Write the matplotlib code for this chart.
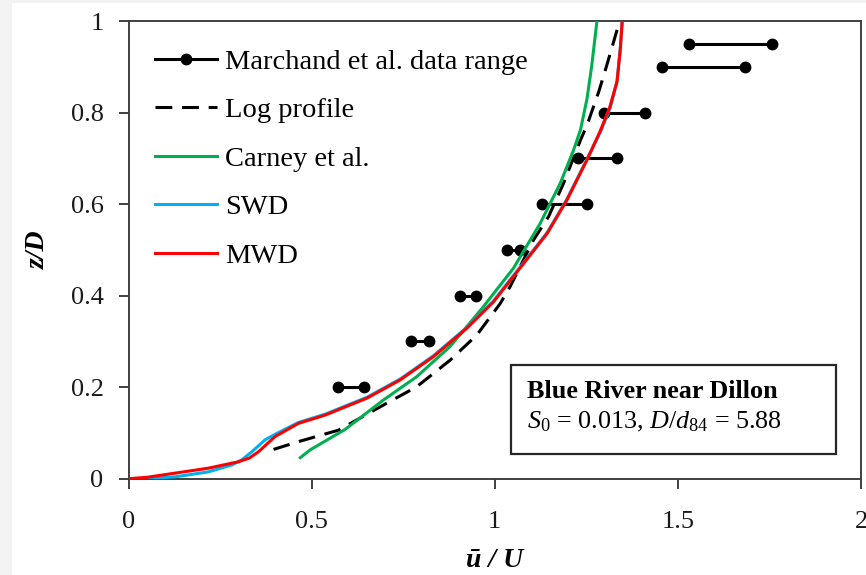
import matplotlib
matplotlib.use("Agg")
import matplotlib.pyplot as plt
from matplotlib.patches import Rectangle
from matplotlib.lines import Line2D

plt.rcParams['font.family'] = ['Liberation Serif', 'DejaVu Serif']
plt.rcParams['mathtext.fontset'] = 'custom'
plt.rcParams['mathtext.rm'] = 'Liberation Serif'
plt.rcParams['mathtext.it'] = 'Liberation Serif:italic'
plt.rcParams['mathtext.bf'] = 'Liberation Serif:bold'

# ---- data ----
march_z = [0.2, 0.3, 0.4, 0.5, 0.6, 0.7, 0.8, 0.9, 0.95]
march_lo = [0.573, 0.77, 0.905, 1.033, 1.13, 1.227, 1.297, 1.458, 1.531]
march_hi = [0.644, 0.82, 0.95, 1.07, 1.252, 1.334, 1.409, 1.683, 1.757]

log_x = [0.396, 0.464, 0.573, 0.696, 0.787, 0.878, 0.951, 1.015, 1.042, 1.106,
         1.147, 1.188, 1.234, 1.252, 1.284, 1.306, 1.334]
log_z = [0.064, 0.081, 0.106, 0.161, 0.201, 0.259, 0.314, 0.383, 0.420, 0.522,
         0.573, 0.646, 0.740, 0.773, 0.846, 0.904, 0.981]

carney_x = [0.469, 0.496, 0.592, 0.696, 0.787, 0.878, 0.965, 1.051, 1.124,
            1.179, 1.215, 1.234, 1.252, 1.265, 1.279]
carney_z = [0.046, 0.063, 0.108, 0.172, 0.223, 0.289, 0.372, 0.460, 0.558,
            0.646, 0.718, 0.762, 0.831, 0.904, 1.0]

swd_x = [0.0, 0.06, 0.127, 0.218, 0.282, 0.309, 0.337, 0.373, 0.400, 0.464,
         0.537, 0.592, 0.651, 0.742, 0.833, 0.924, 0.997, 1.051, 1.143, 1.197,
         1.252, 1.290, 1.316, 1.334, 1.343, 1.348]
swd_z = [0.0, 0.001, 0.004, 0.015, 0.030, 0.041, 0.059, 0.085, 0.097, 0.123,
         0.141, 0.159, 0.178, 0.218, 0.269, 0.331, 0.389, 0.444, 0.538, 0.611,
         0.699, 0.760, 0.812, 0.870, 0.942, 1.0]

mwd_x = [0.0, 0.05, 0.109, 0.218, 0.300, 0.330, 0.355, 0.400, 0.464, 0.537,
         0.592, 0.651, 0.742, 0.833, 0.924, 0.997, 1.051, 1.143, 1.197, 1.252,
         1.288, 1.314, 1.334, 1.343, 1.348]
mwd_z = [0.0, 0.003, 0.010, 0.023, 0.037, 0.045, 0.059, 0.092, 0.121, 0.139,
         0.157, 0.176, 0.216, 0.267, 0.329, 0.387, 0.442, 0.536, 0.609, 0.697,
         0.760, 0.812, 0.868, 0.941, 1.0]

xticks = [0, 0.5, 1, 1.5, 2]
xtick_labels = ['0', '0.5', '1', '1.5', '2']
yticks = [0, 0.2, 0.4, 0.6, 0.8, 1.0]
ytick_labels = ['0', '0.2', '0.4', '0.6', '0.8', '1']

labels = ['Marchand et al. data range', 'Log profile', 'Carney et al.', 'SWD', 'MWD']

# ---- figure ----
fig = plt.figure(figsize=(8.66, 5.75), dpi=100)
fig.patch.set_facecolor('#f3f3f3')
fig.add_artist(Rectangle((12/866, 0), 1, 1 - 3/575, transform=fig.transFigure,
                         facecolor='white', edgecolor='none', zorder=-10))

ax = fig.add_axes([128.5/866, 1 - 478.7/575, 732.5/866, 457.5/575])
ax.set_facecolor('white')

spine_c = '#404040'
for s in ax.spines.values():
    s.set_color(spine_c)
    s.set_linewidth(1.4)

lw = 2.2
ms = 7.5
dash = (5.5, 3.2)
for z, lo, hi in zip(march_z, march_lo, march_hi):
    ax.plot([lo, hi], [z, z], color='black', lw=lw, marker='o', ms=ms, zorder=2)

ax.plot(log_x, log_z, color='black', lw=lw, dashes=dash, zorder=3)
ax.plot(carney_x, carney_z, color='#00b050', lw=lw, zorder=4)
ax.plot(swd_x, swd_z, color='#00b0f0', lw=lw, zorder=5)
ax.plot(mwd_x, mwd_z, color='#ff0000', lw=lw, zorder=6)

ax.set_xlim(0, 2)
ax.set_ylim(0, 1)
ax.set_xticks(xticks)
ax.set_xticklabels(xtick_labels)
ax.set_yticks(yticks)
ax.set_yticklabels(ytick_labels)
ax.tick_params(direction='out', length=7, width=1.4, color=spine_c,
               labelsize=19, labelcolor='#1a1a1a', pad=11)
ax.tick_params(axis='x', pad=16)

ax.set_xlabel('ū / U', fontsize=20, fontweight='bold', fontstyle='italic')
ax.xaxis.set_label_coords(0.5, -0.178)
ax.xaxis.label.set_va('center')
ax.set_ylabel('z/D', fontsize=20, fontweight='bold', fontstyle='italic')
ax.yaxis.set_label_coords(-0.1235, 0.5)
ax.yaxis.label.set_va('center')

handles = [
    Line2D([], [], color='black', lw=lw, marker='o', ms=ms),
    Line2D([], [], color='black', lw=lw, dashes=dash),
    Line2D([], [], color='#00b050', lw=lw),
    Line2D([], [], color='#00b0f0', lw=lw),
    Line2D([], [], color='#ff0000', lw=lw),
]
ax.legend(handles, labels, loc='upper left', bbox_to_anchor=(0.036, 0.939),
          frameon=False, fontsize=20.5, handlelength=2.18, handletextpad=0.28,
          labelspacing=0.79, borderpad=0, borderaxespad=0, numpoints=1)

ax.add_patch(Rectangle((0.522, 0.054), 0.444, 0.1945, transform=ax.transAxes,
                       facecolor='white', edgecolor='#262626', lw=1.6, zorder=7))
ax.text(0.5445, 0.176, 'Blue River near Dillon', transform=ax.transAxes,
        fontsize=18.8, fontweight='bold', va='baseline', ha='left', zorder=8)
ax.text(0.5445, 0.111, r'$S_0$ = 0.013, $D$/$d_{84}$ = 5.88', transform=ax.transAxes,
        fontsize=18.8, va='baseline', ha='left', zorder=8)

fig.savefig('out.png', dpi=100, facecolor=fig.get_facecolor())
